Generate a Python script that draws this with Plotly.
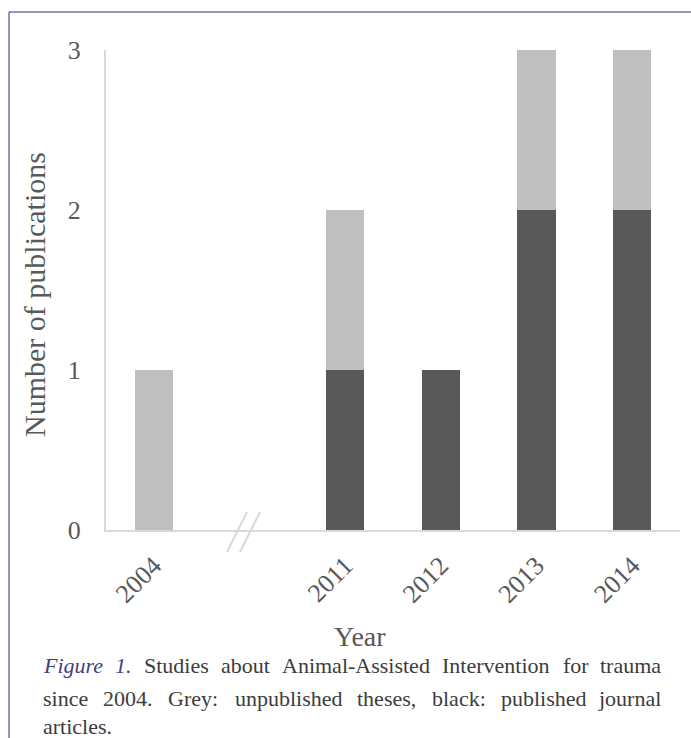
import plotly.graph_objects as go

# Publications per year (studies on Animal-Assisted Intervention for trauma)
years = ["2004", "2011", "2012", "2013", "2014"]
published_articles = [0, 1, 1, 2, 2]      # black: published journal articles
unpublished_theses = [1, 1, 0, 1, 1]      # grey: unpublished theses
y_ticks = [0, 1, 2, 3]

caption_lines = [
    "Figure 1. Studies about Animal-Assisted Intervention for trauma",
    "since 2004. Grey: unpublished theses, black: published journal",
    "articles.",
]
caption_label = "Figure 1."   # italic lead-in of the caption

# One empty slot between 2004 and 2011 marks the broken time axis
slots = [0] + [i + 1 for i in range(1, len(years))]

W, H = 691, 738
L, R, T, B = 106, 680, 50, 530          # plot area in pixels


def fx(px):
    return (px - L) / (R - L)


def fy(py):
    return (B - py) / (B - T)


AXIS_GREY = "#d9d9d9"
TEXT_GREY = "#595959"
SERIF = "Liberation Serif, Times New Roman, serif"

fig = go.Figure()
fig.add_trace(go.Bar(x=slots, y=published_articles, width=0.4,
                     marker=dict(color="#595959", line=dict(width=0)),
                     name="Published journal articles"))
fig.add_trace(go.Bar(x=slots, y=unpublished_theses, width=0.4,
                     marker=dict(color="#bfbfbf", line=dict(width=0)),
                     name="Unpublished theses"))

fig.update_layout(
    width=W, height=H,
    barmode="stack",
    showlegend=False,
    paper_bgcolor="white",
    plot_bgcolor="white",
    margin=dict(l=L, r=W - R, t=T, b=H - B, pad=0),
    font=dict(family=SERIF, color=TEXT_GREY),
)

fig.update_xaxes(
    range=[-0.5, 5.5], tickmode="array", tickvals=slots, ticktext=years,
    tickangle=-45, tickfont=dict(size=26, color=TEXT_GREY, family=SERIF),
    showline=True, linecolor=AXIS_GREY, linewidth=2, showgrid=False,
    zeroline=False, ticks="", ticklabelstandoff=8,
)
fig.update_yaxes(
    range=[0, 3], tickmode="array", tickvals=y_ticks,
    tickfont=dict(size=26, color=TEXT_GREY, family=SERIF),
    showline=True, linecolor=AXIS_GREY, linewidth=2, showgrid=False,
    zeroline=False, ticks="", ticklabelstandoff=18,
)

shapes = []
# Axis break marks "//" across the x axis
for x0, x1 in [(227, 247), (240, 260)]:
    shapes.append(dict(type="line", xref="paper", yref="paper",
                       x0=fx(x0), y0=fy(552), x1=fx(x1), y1=fy(512),
                       line=dict(color=AXIS_GREY, width=2)))
# Page frame: left and top rules
FRAME = "#7272a8"
shapes.append(dict(type="line", xref="paper", yref="paper",
                   x0=fx(9), y0=fy(12), x1=fx(9), y1=fy(H + 2),
                   line=dict(color=FRAME, width=1.5)))
shapes.append(dict(type="line", xref="paper", yref="paper",
                   x0=fx(9), y0=fy(12), x1=fx(W + 2), y1=fy(12),
                   line=dict(color=FRAME, width=1.5)))

annotations = [
    dict(text="Number of publications", xref="paper", yref="paper",
         x=fx(34), y=fy(295), textangle=-90, showarrow=False,
         xanchor="center", yanchor="middle",
         font=dict(size=30, color=TEXT_GREY, family=SERIF)),
    dict(text="Year", xref="paper", yref="paper",
         x=fx(360), y=fy(636), showarrow=False,
         xanchor="center", yanchor="middle",
         font=dict(size=28, color=TEXT_GREY, family=SERIF)),
]

# ---- Justified caption -------------------------------------------------
# Approximate Times-style advance widths (1/1000 em) used to spread words
# evenly across the text column.
ADV = {
    " ": 250, ".": 250, ",": 250, ":": 278, "-": 333,
    "a": 444, "b": 500, "c": 444, "d": 500, "e": 444, "f": 333, "g": 500,
    "h": 500, "i": 278, "j": 278, "k": 500, "l": 278, "m": 778, "n": 500,
    "o": 500, "p": 500, "r": 389, "s": 389, "t": 278, "u": 500, "v": 500,
    "y": 500, "A": 722, "F": 611, "G": 722, "I": 333, "S": 556,
}


def word_width(word, size):
    return sum(ADV.get(ch, 500) for ch in word) * size / 1000.0


CAPTION_BLUE = "#3f3f86"
CAPTION_TEXT = "#3c3c3c"
CAP_SIZE = 22
COL_LEFT, COL_RIGHT = 41, 663
line_centres = [665, 698, 726]

label_words = caption_label.split()
for li, (line, yc) in enumerate(zip(caption_lines, line_centres)):
    words = line.split()
    justify = li < len(caption_lines) - 1 and len(words) > 1
    widths = [word_width(w, CAP_SIZE) for w in words]
    if justify:
        gap = (COL_RIGHT - COL_LEFT - sum(widths)) / (len(words) - 1)
    else:
        gap = word_width(" ", CAP_SIZE)
    x = COL_LEFT
    for wi, (word, wd) in enumerate(zip(words, widths)):
        italic = li == 0 and wi < len(label_words)
        last = justify and wi == len(words) - 1
        annotations.append(dict(
            text=f"<i>{word}</i>" if italic else word,
            xref="paper", yref="paper",
            x=fx(COL_RIGHT if last else x), y=fy(yc),
            xanchor="right" if last else "left", yanchor="middle",
            showarrow=False,
            font=dict(size=CAP_SIZE, family=SERIF,
                      color=CAPTION_BLUE if italic else CAPTION_TEXT)))
        x += wd + gap

fig.update_layout(shapes=shapes, annotations=annotations)

fig.write_html("out.html")
